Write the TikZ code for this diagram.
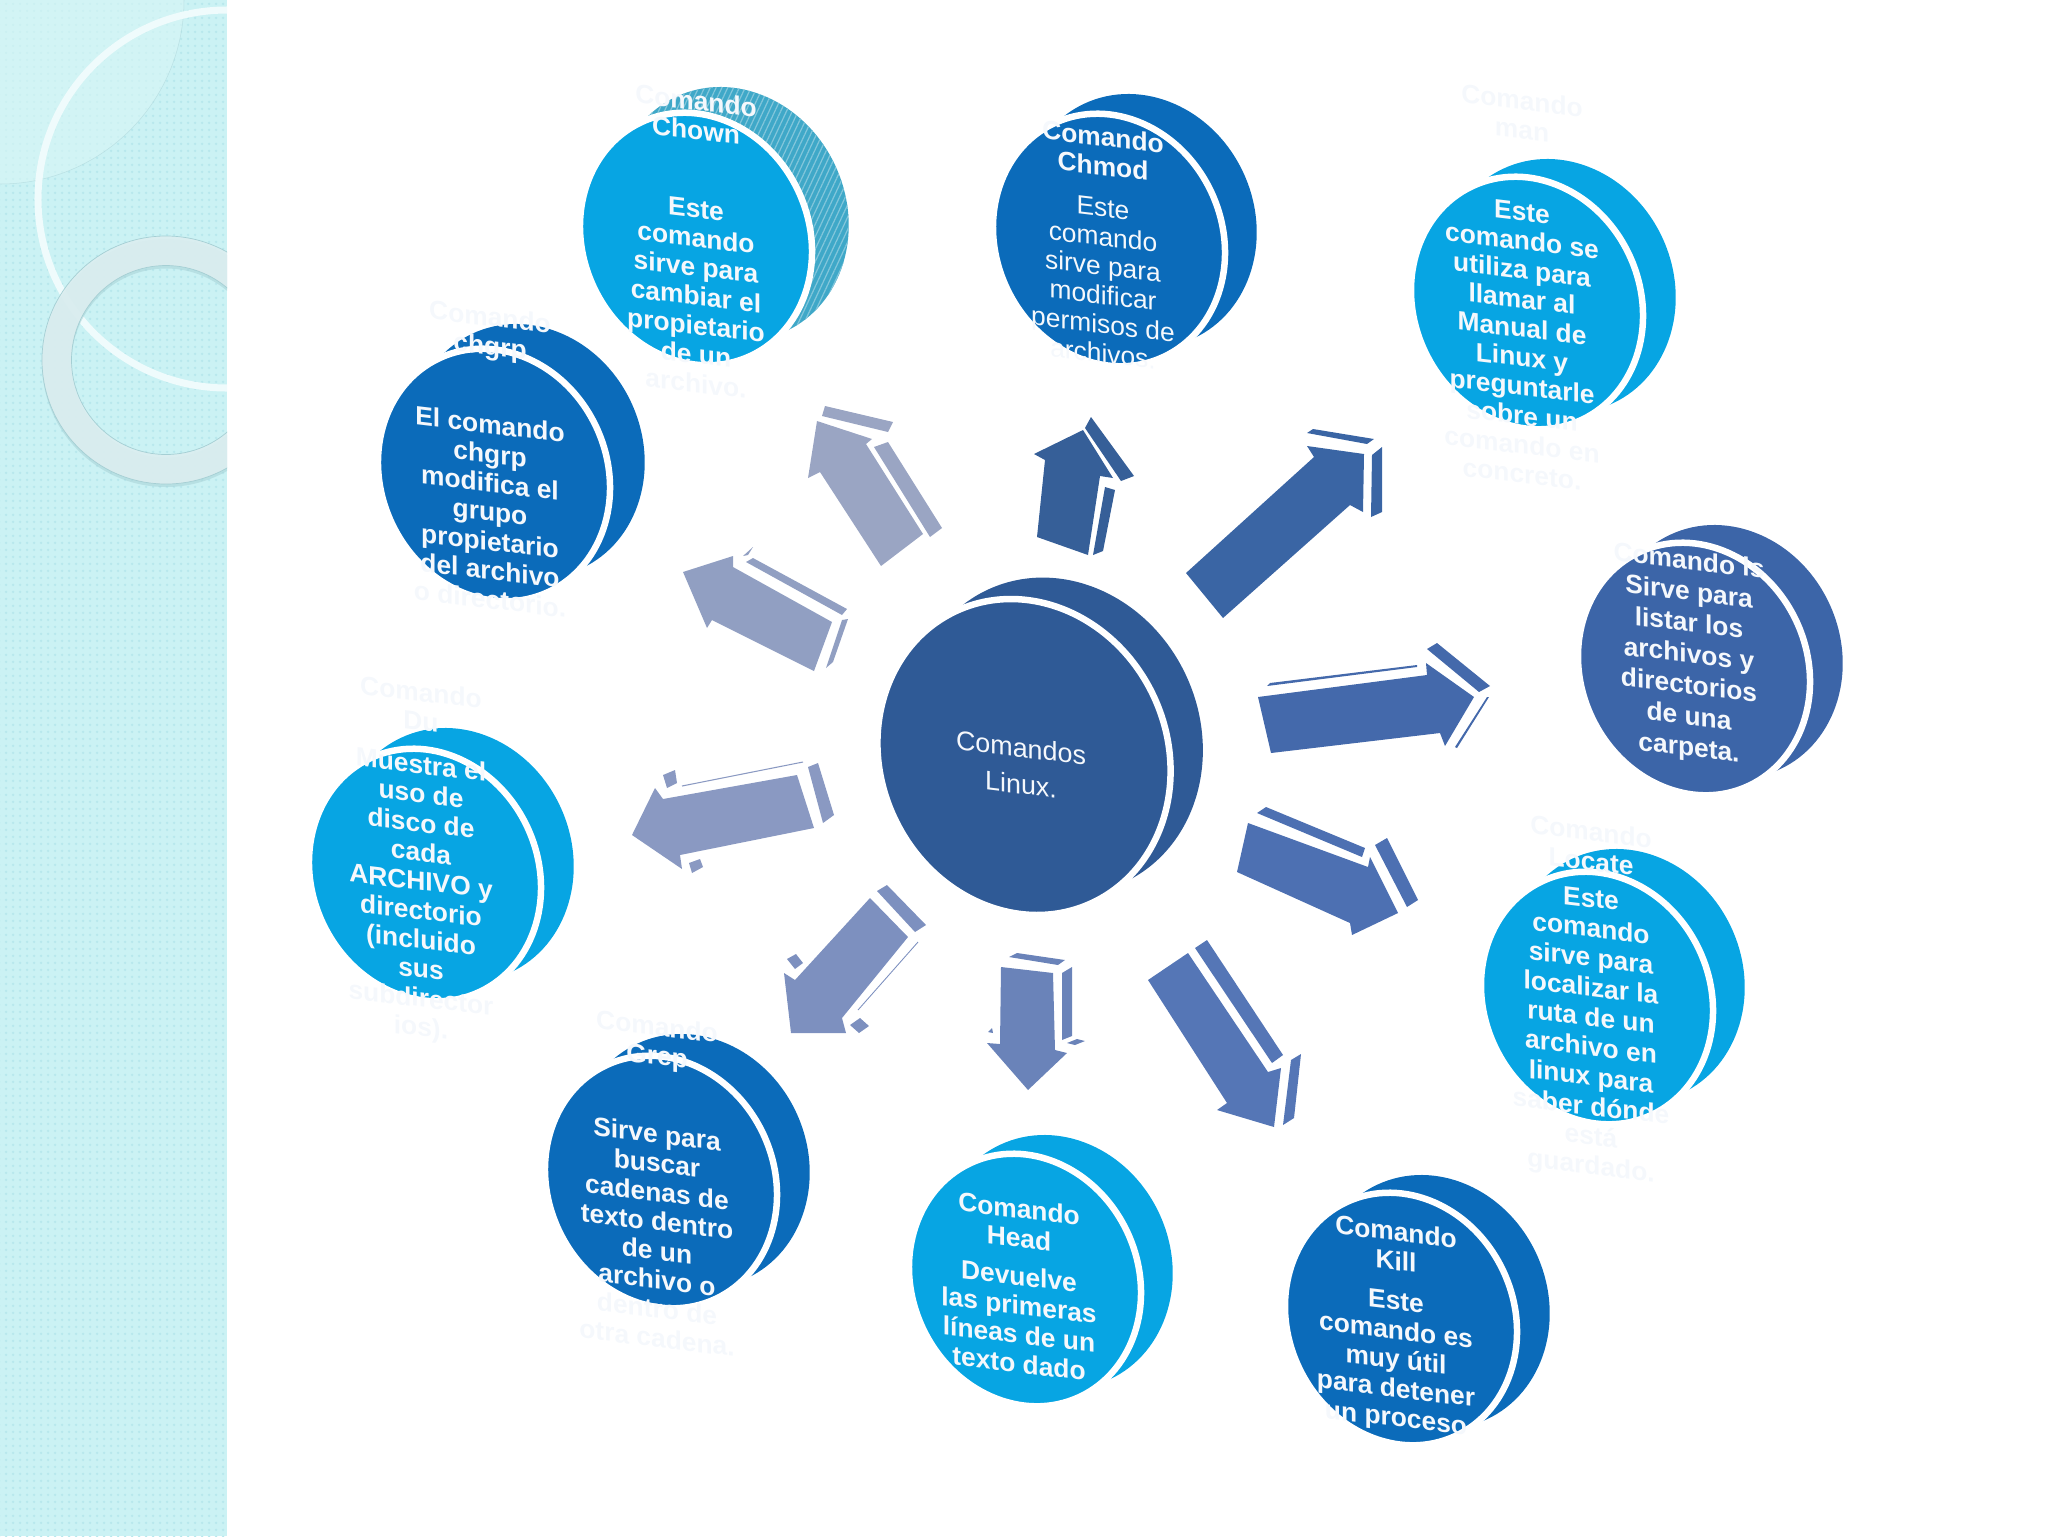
\documentclass[tikz,border=0pt]{standalone}
\usepackage{fontspec}
\usepackage{xcolor}
\usepackage{tikz}
\usetikzlibrary{shapes.geometric,patterns.meta}
\setmainfont{Liberation Sans}

\definecolor{sidecol}{HTML}{CBF2F4}
\definecolor{sidedot}{HTML}{B8E8ED}
\definecolor{cornercol}{HTML}{D8F6F6}
\definecolor{ringcol}{HTML}{DCEEF0}
\definecolor{ringedge}{HTML}{A5CFD4}
\definecolor{lightdisk}{HTML}{07A5E3}
\definecolor{darkdisk}{HTML}{0B6BBA}
\definecolor{lsdisk}{HTML}{3C65A8}
\definecolor{maindisk}{HTML}{2F5A96}
\definecolor{chownside}{HTML}{3FA8C8}
\definecolor{textcol}{HTML}{F5F8FC}
\definecolor{chownarrow}{HTML}{9AA5C3}
\definecolor{chgrparrow}{HTML}{919FC2}
\definecolor{duarrow}{HTML}{8A99C2}
\definecolor{greparrow}{HTML}{7D90BF}
\definecolor{headarrow}{HTML}{6A83B9}
\definecolor{killarrow}{HTML}{5576B6}
\definecolor{locatearrow}{HTML}{4D70B2}
\definecolor{lsarrow}{HTML}{4469AB}
\definecolor{mansarrow}{HTML}{3A65A4}
\definecolor{chmodarrow}{HTML}{365F98}

\tikzset{
diskback/.style={ellipse, inner sep=0pt, minimum width=4.60cm, minimum height=5.18cm, rotate=25},
diskface/.style={ellipse, inner sep=0pt, minimum width=4.52cm, minimum height=5.16cm, rotate=25, draw=white, line width=0.13cm},
disktext/.style={text=textcol, align=center, yslant=-0.12, transform shape, font=\bfseries\fontsize{15}{16.6}\selectfont},
}

\begin{document}
\begin{tikzpicture}[x=0.02cm, y=-0.02cm]
\useasboundingbox (0,0) rectangle (2048,1536);

\fill[sidecol] (0,0) rectangle (227,1536);
\fill[pattern={Dots[distance=4pt,radius=0.9pt]}, pattern color=sidedot] (0,0) rectangle (227,1536);
\begin{scope}
\clip (0,0) rectangle (227,1536);
\fill[cornercol, opacity=0.6] (0,0) -- (184,0) arc (0:90:184) -- cycle;
\draw[ringedge, line width=0.3pt, opacity=0.5] (184,0) arc (0:90:184);
\draw[white!70!sidecol, line width=4pt] (227,199) circle (189);
\fill[ringedge, opacity=0.5, even odd rule] (166,363) circle (124) (166,363) circle (94.5);
\fill[ringcol, opacity=0.9, even odd rule] (166,360) circle (124) (166,360) circle (94.5);
\draw[ringedge, line width=0.4pt] (166,360) circle (124) (166,360) circle (94.5);
\end{scope}

\fill[chownarrow] (817,421) -- (872,439) -- (866,444) -- (923,534) -- (881,566) -- (820,472) -- (808,478) -- cycle;
\fill[chownarrow] (825,406) -- (893,422) -- (888,432) -- (822,416) -- cycle;
\fill[chownarrow] (874,447) -- (888,442) -- (942,528) -- (930,537) -- cycle;

\fill[chmodarrow] (1083,430) -- (1034,454) -- (1045,460) -- (1037,537) -- (1088,555) -- (1100,476) -- (1113,478) -- cycle;
\fill[chmodarrow] (1091,417) -- (1134,476) -- (1121,481) -- (1085,428) -- cycle;
\fill[chmodarrow] (1105,487) -- (1115,490) -- (1103,551) -- (1093,555) -- cycle;

\fill[mansarrow] (1186,573) -- (1314,457) -- (1307,446) -- (1364,454) -- (1363,512) -- (1350,505) -- (1223,618) -- cycle;
\fill[mansarrow] (1307,433) -- (1313,429) -- (1374,439) -- (1367,444) -- cycle;
\fill[mansarrow] (1372,455) -- (1382,447) -- (1382,512) -- (1371,517) -- cycle;

\fill[lsarrow] (1258,697) -- (1427,675) -- (1426,663) -- (1474,697) -- (1445,746) -- (1440,733) -- (1271,753) -- cycle;
\fill[lsarrow] (1267,686) -- (1270,683) -- (1417,665) -- (1417,667) -- cycle;
\fill[lsarrow] (1427,649) -- (1437,643) -- (1490,686) -- (1479,692) -- cycle;
\fill[lsarrow] (1455,747) -- (1487,697) -- (1489,697) -- (1457,748) -- cycle;

\fill[locatearrow] (1248,823) -- (1368,867) -- (1370,857) -- (1398,913) -- (1352,935) -- (1350,923) -- (1237,872) -- cycle;
\fill[locatearrow] (1257,813) -- (1266,807) -- (1365,848) -- (1362,857) -- cycle;
\fill[locatearrow] (1375,845) -- (1387,838) -- (1418,900) -- (1407,907) -- cycle;

\fill[killarrow] (1148,980) -- (1188,953) -- (1268,1072) -- (1281,1068) -- (1274,1127) -- (1217,1110) -- (1227,1103) -- cycle;
\fill[killarrow] (1195,948) -- (1207,940) -- (1283,1055) -- (1272,1063) -- cycle;
\fill[killarrow] (1291,1060) -- (1301,1054) -- (1294,1118) -- (1283,1125) -- cycle;

\fill[headarrow] (1001,967) -- (1053,973) -- (1055,1050) -- (1067,1053) -- (1028,1090) -- (987,1043) -- (1000,1044) -- cycle;
\fill[headarrow] (1009,957) -- (1017,953) -- (1065,960) -- (1058,965) -- cycle;
\fill[headarrow] (1062,973) -- (1072,967) -- (1072,1036) -- (1062,1040) -- cycle;
\fill[headarrow] (1067,1043) -- (1077,1039) -- (1085,1041) -- (1075,1045) -- cycle;
\fill[headarrow] (988,1032) -- (992,1028) -- (993,1033) -- cycle;

\fill[greparrow] (870,898) -- (908,937) -- (842,1018) -- (846,1033) -- (791,1033) -- (784,973) -- (795,980) -- cycle;
\fill[greparrow] (877,891) -- (887,885) -- (926,925) -- (915,932) -- cycle;
\fill[greparrow] (787,959) -- (796,954) -- (803,963) -- (795,969) -- cycle;
\fill[greparrow] (850,1025) -- (860,1018) -- (869,1026) -- (859,1033) -- cycle;
\draw[greparrow, line width=0.5pt] (858,1010) -- (918,942);

\fill[duarrow] (632,835) -- (655,788) -- (663,799) -- (797,775) -- (814,828) -- (680,855) -- (682,869) -- cycle;
\fill[duarrow] (808,767) -- (818,763) -- (834,815) -- (823,823) -- cycle;
\fill[duarrow] (663,775) -- (675,770) -- (677,783) -- (667,788) -- cycle;
\fill[duarrow] (689,863) -- (700,859) -- (703,867) -- (692,873) -- cycle;
\draw[duarrow, line width=0.6pt] (682,786) -- (803,762);

\fill[chgrparrow] (683,572) -- (733,556) -- (733,567) -- (832,622) -- (814,671) -- (712,620) -- (707,628) -- cycle;
\fill[chgrparrow] (746,562) -- (753,558) -- (847,609) -- (842,615) -- cycle;
\fill[chgrparrow] (842,620) -- (848,619) -- (833,662) -- (826,668) -- cycle;
\fill[chgrparrow] (743,556) -- (753,547) -- (748,555) -- cycle;

\node[diskback, fill=maindisk, minimum width=5.74cm, minimum height=6.46cm] (mainback) at (1056,736) {};
\node[diskface, fill=maindisk, minimum width=5.73cm, minimum height=6.44cm] (main) at (1024,757) {};
\node[disktext, font=\fontsize{15.3}{20.8}\selectfont] (maintext) at (1021,766) {Comandos\\Linux.};

\node[diskback, fill=chownside, postaction={pattern={Lines[angle=65,distance=3pt,line width=0.7pt]}, pattern color=chownside!65!white}] (chownback) at (731,214) {};
\node[diskface, fill=lightdisk] (chown) at (696,239) {};
\node[disktext] (chowntext) at (696,242) {Comando\\Chown\\[28pt]Este\\comando\\sirve para\\cambiar el\\propietario\\de un\\archivo.};

\node[diskback, fill=darkdisk] (chmodback) at (1139,221) {};
\node[diskface, fill=darkdisk] (chmod) at (1109,240) {};
\node[disktext, font=\fontsize{15}{16.6}\selectfont] (chmodtext) at (1103,245) {\textbf{Comando}\\\textbf{Chmod}\\[7pt]Este\\comando\\sirve para\\modificar\\permisos de\\archivos.};

\node[diskback, fill=lightdisk] (manback) at (1558,286) {};
\node[diskface, fill=lightdisk] (man) at (1527,303) {};
\node[disktext] (mantext) at (1522,287) {Comando\\man\\[30pt]Este\\comando se\\utiliza para\\llamar al\\Manual de\\Linux y\\preguntarle\\sobre un\\comando en\\concreto.};

\node[diskback, fill=lsdisk] (lsback) at (1725,652) {};
\node[diskface, fill=lsdisk] (ls) at (1694,669) {};
\node[disktext, font=\bfseries\fontsize{15}{17.7}\selectfont] (lstext) at (1689,656) {Comando ls\\Sirve para\\listar los\\archivos y\\directorios\\de una\\carpeta.};

\node[diskback, fill=lightdisk] (locateback) at (1627,976) {};
\node[diskface, fill=lightdisk] (locate) at (1597,998) {};
\node[disktext, font=\bfseries\fontsize{15}{16.9}\selectfont] (locatetext) at (1591,1001) {Comando\\Locate\\[4pt]Este\\comando\\sirve para\\localizar la\\ruta de un\\archivo en\\linux para\\saber dónde\\está\\guardado.};

\node[diskback, fill=darkdisk] (killback) at (1432,1302) {};
\node[diskface, fill=darkdisk] (kill) at (1401,1319) {};
\node[disktext] (killtext) at (1396,1327) {Comando\\Kill\\[6pt]Este\\comando es\\muy útil\\para detener\\un proceso};

\node[diskback, fill=lightdisk] (headback) at (1055,1262) {};
\node[diskface, fill=lightdisk] (head) at (1025,1280) {};
\node[disktext] (headtext) at (1019,1286) {Comando\\Head\\[5pt]Devuelve\\las primeras\\líneas de un\\texto dado};

\node[diskback, fill=darkdisk] (grepback) at (692,1161) {};
\node[diskface, fill=darkdisk] (grep) at (661,1182) {};
\node[disktext] (greptext) at (657,1182) {Comando\\Grep\\[28pt]Sirve para\\buscar\\cadenas de\\texto dentro\\de un\\archivo o\\dentro de\\otra cadena.};

\node[diskback, fill=lightdisk] (duback) at (456,855) {};
\node[diskface, fill=lightdisk] (du) at (425,875) {};
\node[disktext] (dutext) at (421,862) {Comando\\Du\\[8pt]Muestra el\\uso de\\disco de\\cada\\ARCHIVO y\\directorio\\(incluido\\sus\\subdirector\\ios).};

\node[diskback, fill=darkdisk] (chgrpback) at (527,451) {};
\node[diskface, fill=darkdisk] (chgrp) at (494,475) {};
\node[disktext] (chgrptext) at (490,458) {Comando\\chgrp\\[28pt]El comando\\chgrp\\modifica el\\grupo\\propietario\\del archivo\\o directorio.};
\end{tikzpicture}
\end{document}
